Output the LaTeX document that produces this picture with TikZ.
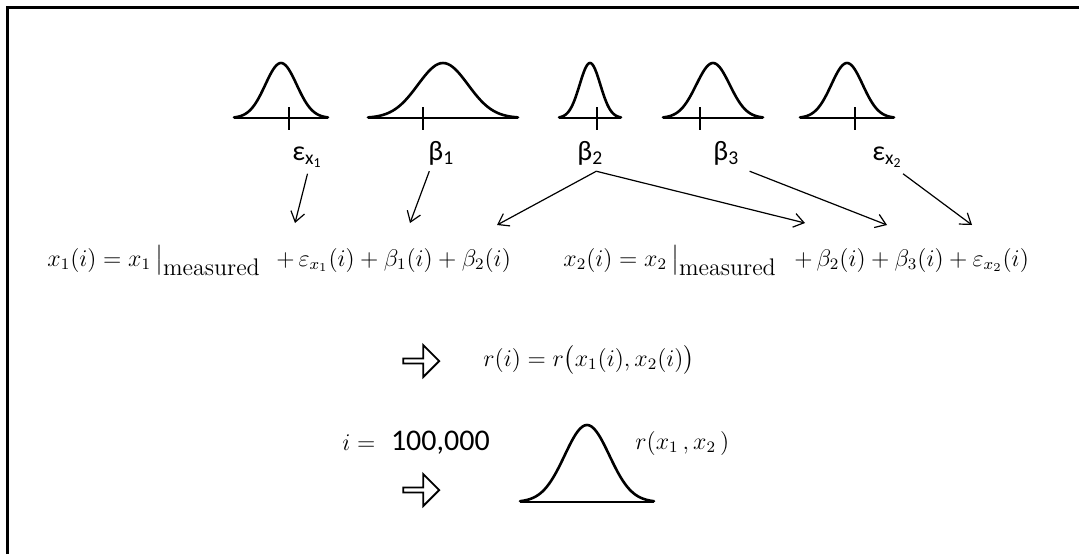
\documentclass[tikz,border=0pt]{standalone}
\usepackage{amsmath}
\usepackage{fontspec}
\newfontfamily\lblfont{Carlito}
\usetikzlibrary{arrows.meta,shapes.arrows}

% one bell: centre x, half width, height, base y (pixel units)
\newcommand{\bellcurve}[4]{%
  \draw[bellbase] ({#1-#2},#4) -- ({#1+#2},#4);
  \draw[bellline] plot[domain=-#2:#2, samples=61, smooth]
    ({#1+\x},{#4-#3*exp(-(\x*\x)/(2*(#2/3)*(#2/3)))});
}

\tikzset{
  bellline/.style={line width=1.3pt, line cap=round},
  bellbase/.style={line width=0.7pt},
  lbl/.style={font=\lblfont\fontsize{14}{16}\selectfont, inner sep=0pt, anchor=base west},
  eqn/.style={font=\fontsize{12}{14}\selectfont, inner sep=0pt, anchor=base west},
  feed/.style={->, line width=0.6pt},
  hollow/.style={single arrow, draw, line width=0.9pt, minimum height=18pt,
    minimum width=16pt, single arrow head extend=2.5pt, inner sep=0pt},
}

\begin{document}
\begin{tikzpicture}[x=0.5pt, y=-0.5pt, >={Straight Barb[length=5pt,width=7pt]}]
  \useasboundingbox (0,0) rectangle (1079,554);
  \draw[line width=1.3pt] (7.5,554) -- (7.5,7.5) -- (1079,7.5);

  % input distributions
  \foreach \cx/\w/\tk in {281/47/289, 443/75/423, 590/31/597, 713/50/700, 847/47/855}{
    \bellcurve{\cx}{\w}{55}{118}
    \draw[bellbase] (\tk,107) -- (\tk,130);
  }

  \node[lbl] (lbEpsA) at (292,160) {ε\textsubscript{x\textsubscript{1}}};
  \node[lbl] (lbBetaA) at (428,160) {β\textsubscript{1}};
  \node[lbl] (lbBetaB) at (577,160) {β\textsubscript{2}};
  \node[lbl] (lbBetaC) at (713,160) {β\textsubscript{3}};
  \node[lbl] (lbEpsB) at (872,160) {ε\textsubscript{x\textsubscript{2}}};

  % the two sampled inputs
  \node[eqn] (eqOneL) at (47,266) {$x_1(i) = x_1\,\big|_{\textstyle\mathrm{measured}}$};
  \node[eqn] (eqOneR) at (276,266) {$+\,\varepsilon_{x_1}(i)+\beta_1(i)+\beta_2(i)$};
  \node[eqn] (eqTwoL) at (563,266) {$x_2(i) = x_2\,\big|_{\textstyle\mathrm{measured}}$};
  \node[eqn] (eqTwoR) at (794,266) {$+\,\beta_2(i)+\beta_3(i)+\varepsilon_{x_2}(i)$};

  \coordinate (tEpsA) at (295,223);
  \coordinate (tBetaA) at (410,223);
  \coordinate (tBetaBl) at (497,225);
  \coordinate (tBetaBr) at (805,223);
  \coordinate (tBetaC) at (887,225);
  \coordinate (tEpsB) at (972,225);

  \draw[feed] ([yshift=-3pt]lbEpsA.south) -- (tEpsA);
  \draw[feed] ([xshift=-6pt,yshift=-3pt]lbBetaA.south) -- (tBetaA);
  \draw[feed] ([xshift=3pt,yshift=-3pt]lbBetaB.south) -- (tBetaBl);
  \draw[feed] ([xshift=3pt,yshift=-3pt]lbBetaB.south) -- (tBetaBr);
  \draw[feed] ([xshift=5pt,yshift=-3pt]lbBetaC.south east) -- (tBetaC);
  \draw[feed] ([yshift=-3pt]lbEpsB.south east) -- (tEpsB);

  % output
  \node[hollow] (goA) at (420,361) {};
  \node[eqn, anchor=west] (rSample) at (483,360) {$r(i)=r\bigl(x_1(i),x_2(i)\bigr)$};

  \node[eqn, anchor=west] (iCount) at (342,443) {$i=$\ \ {\lblfont\fontsize{15}{17}\selectfont 100,000}};
  \node[hollow] (goB) at (420,490) {};
  \bellcurve{587}{67}{77}{502}
  \node[eqn, anchor=west] (rFinal) at (635,443) {$r(x_1\,,x_2\,)$};
\end{tikzpicture}
\end{document}
